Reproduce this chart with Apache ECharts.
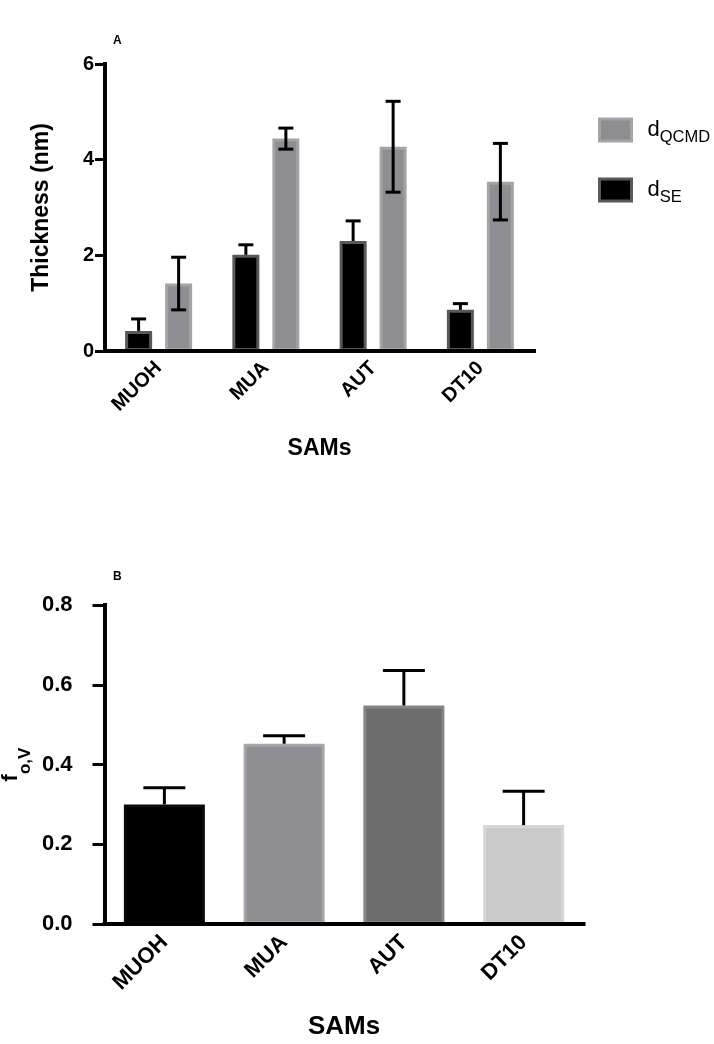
<!DOCTYPE html>
<html><head><meta charset="utf-8">
<script src="https://cdn.jsdelivr.net/npm/echarts@6/dist/echarts.min.js"></script>
<style>html,body{margin:0;padding:0;background:#fff}#c{width:714px;height:1044px}</style>
</head><body><div id="c"></div>
<script>
// ---- data ----
const categories = ['MUOH', 'MUA', 'AUT', 'DT10'];
const thicknessTicks = [0, 2, 4, 6];
const fovTicks = [0.0, 0.2, 0.4, 0.6, 0.8];
const dSE = [0.42, 2.01, 2.30, 0.86];
const dSEErr = [0.25, 0.21, 0.42, 0.13];
const dQCMD = [1.41, 4.44, 4.27, 3.54];
const dQCMDErr = [0.55, 0.22, 0.95, 0.80];
const fov = [0.300, 0.452, 0.548, 0.248];
const fovErr = [0.042, 0.020, 0.088, 0.085];

const FONT = 'Liberation Sans, Arial, Helvetica, sans-serif';
const BAR_W = 27, BAR_SPACING = 40;
const fovColors = [
  { fill: '#000000', border: '#0a0a0a' },
  { fill: '#8f8f93', border: '#a6a6a8' },
  { fill: '#6d6d6d', border: '#858585' },
  { fill: '#cacaca', border: '#d6d6d6' }
];

function errRender(offsetPx, capW, upperOnly) {
  return function (params, api) {
    const i = api.value(0), v = api.value(1), e = api.value(2);
    const p0 = api.coord([i, upperOnly ? v : v - e]);
    const p1 = api.coord([i, v + e]);
    const x = p0[0] + offsetPx;
    const st = { stroke: '#000', lineWidth: 3 };
    const ch = [
      { type: 'line', shape: { x1: x, y1: p0[1], x2: x, y2: p1[1] }, style: st },
      { type: 'line', shape: { x1: x - capW / 2, y1: p1[1], x2: x + capW / 2, y2: p1[1] }, style: st }
    ];
    if (!upperOnly) ch.push({ type: 'line', shape: { x1: x - capW / 2, y1: p0[1], x2: x + capW / 2, y2: p0[1] }, style: st });
    return { type: 'group', children: ch };
  };
}
const errData = (vals, errs) => vals.map((v, i) => [i, v, errs[i]]);

const axisLineStyle = { color: '#000', width: 4, cap: 'square' };

const chart = echarts.init(document.getElementById('c'), null, { renderer: 'canvas' });
chart.setOption({
  animation: false,
  backgroundColor: '#fff',
  textStyle: { fontFamily: FONT, color: '#000' },
  graphic: [
    { type: 'text', left: 113, top: 35, style: { text: 'A', fontFamily: FONT, fontWeight: 'bold', fontSize: 12, fill: '#000' } },
    { type: 'text', left: 113, top: 571, style: { text: 'B', fontFamily: FONT, fontWeight: 'bold', fontSize: 12, fill: '#000' } }
  ],
  legend: {
    data: ['dQCMD', 'dSE'],
    orient: 'vertical',
    left: 598, top: 114, padding: 0,
    itemWidth: 32, itemHeight: 22, itemGap: 28,
    icon: 'rect',
    itemStyle: { borderWidth: 3 },
    formatter: name => '{b|d}{s|' + name.slice(1) + '}',
    textStyle: {
      color: '#000', padding: [0, 0, 0, 11],
      rich: {
        b: { fontSize: 22, lineHeight: 26, fontFamily: FONT, color: '#000' },
        s: { fontSize: 16.5, lineHeight: 16, padding: [15, 0, 0, 0], fontFamily: FONT, color: '#000' }
      }
    }
  },
  grid: [
    { left: 105, top: 64, width: 429, height: 287, outerBoundsMode: 'none', containLabel: false },
    { left: 104.5, top: 605, width: 479, height: 319, outerBoundsMode: 'none', containLabel: false }
  ],
  xAxis: [
    {
      type: 'category', gridIndex: 0, data: categories, z: 10,
      axisLine: { lineStyle: axisLineStyle },
      axisTick: { alignWithLabel: true, length: 11, lineStyle: { width: 3, color: '#000' } },
      axisLabel: { interval: 0, rotate: 45, fontSize: 20, fontWeight: 'bold', color: '#000', margin: 14 },
      name: 'SAMs', nameLocation: 'middle', nameGap: 86,
      nameTextStyle: { fontSize: 23, fontWeight: 'bold', color: '#000' }
    },
    {
      type: 'category', gridIndex: 1, data: categories, z: 10,
      axisLine: { lineStyle: axisLineStyle },
      axisTick: { alignWithLabel: true, length: 12, lineStyle: { width: 3, color: '#000' } },
      axisLabel: { interval: 0, rotate: 45, fontSize: 22, fontWeight: 'bold', color: '#000', margin: 15 },
      name: 'SAMs', nameLocation: 'middle', nameGap: 90,
      nameTextStyle: { fontSize: 26, fontWeight: 'bold', color: '#000' }
    }
  ],
  yAxis: [
    {
      type: 'value', gridIndex: 0, min: thicknessTicks[0], max: thicknessTicks[thicknessTicks.length - 1], interval: 2, z: 10,
      axisLine: { show: true, lineStyle: axisLineStyle },
      axisTick: { show: true, length: 10, lineStyle: { width: 3, color: '#000' } },
      splitLine: { show: false },
      axisLabel: { fontSize: 20, fontWeight: 'bold', color: '#000', margin: 11 },
      name: 'Thickness (nm)', nameLocation: 'middle', nameGap: 52, nameRotate: 90,
      nameTextStyle: { fontSize: 23, fontWeight: 'bold', color: '#000' }
    },
    {
      type: 'value', gridIndex: 1, min: fovTicks[0], max: fovTicks[fovTicks.length - 1], interval: 0.2, z: 10,
      axisLine: { show: true, lineStyle: axisLineStyle },
      axisTick: { show: true, length: 12, lineStyle: { width: 3, color: '#000' } },
      splitLine: { show: false },
      axisLabel: { fontSize: 22, fontWeight: 'bold', color: '#000', margin: 32, formatter: v => v.toFixed(1) },
      name: '{f|f}{s|o,V}', nameLocation: 'middle', nameGap: 81, nameRotate: 90, nameMoveOverlap: false,
      nameTextStyle: {
        rich: {
          f: { fontSize: 22, lineHeight: 26, fontWeight: 'bold', fontFamily: FONT, color: '#000' },
          s: { fontSize: 17, lineHeight: 16, fontWeight: 'bold', padding: [30, 0, 0, 0], fontFamily: FONT, color: '#000' }
        }
      }
    }
  ],
  series: [
    {
      name: 'dSE', type: 'bar', xAxisIndex: 0, yAxisIndex: 0, data: dSE,
      barWidth: BAR_W, barGap: ((BAR_SPACING - BAR_W) / BAR_W * 100).toFixed(1) + '%',
      itemStyle: { color: '#000000', borderColor: '#595959', borderWidth: 3 }
    },
    {
      name: 'dQCMD', type: 'bar', xAxisIndex: 0, yAxisIndex: 0, data: dQCMD,
      barWidth: BAR_W,
      itemStyle: { color: '#8e8e92', borderColor: '#a4a4a6', borderWidth: 3 }
    },
    {
      type: 'custom', xAxisIndex: 0, yAxisIndex: 0, z: 5,
      renderItem: errRender(-BAR_SPACING / 2, 15, true), data: errData(dSE, dSEErr)
    },
    {
      type: 'custom', xAxisIndex: 0, yAxisIndex: 0, z: 5,
      renderItem: errRender(BAR_SPACING / 2, 15, false), data: errData(dQCMD, dQCMDErr)
    },
    {
      name: 'fov', type: 'bar', xAxisIndex: 1, yAxisIndex: 1, barWidth: 81,
      data: fov.map((v, i) => ({ value: v, itemStyle: { color: fovColors[i].fill, borderColor: fovColors[i].border, borderWidth: 3 } }))
    },
    {
      type: 'custom', xAxisIndex: 1, yAxisIndex: 1, z: 5,
      renderItem: errRender(0, 42, true), data: errData(fov, fovErr)
    }
  ]
});
</script></body></html>
